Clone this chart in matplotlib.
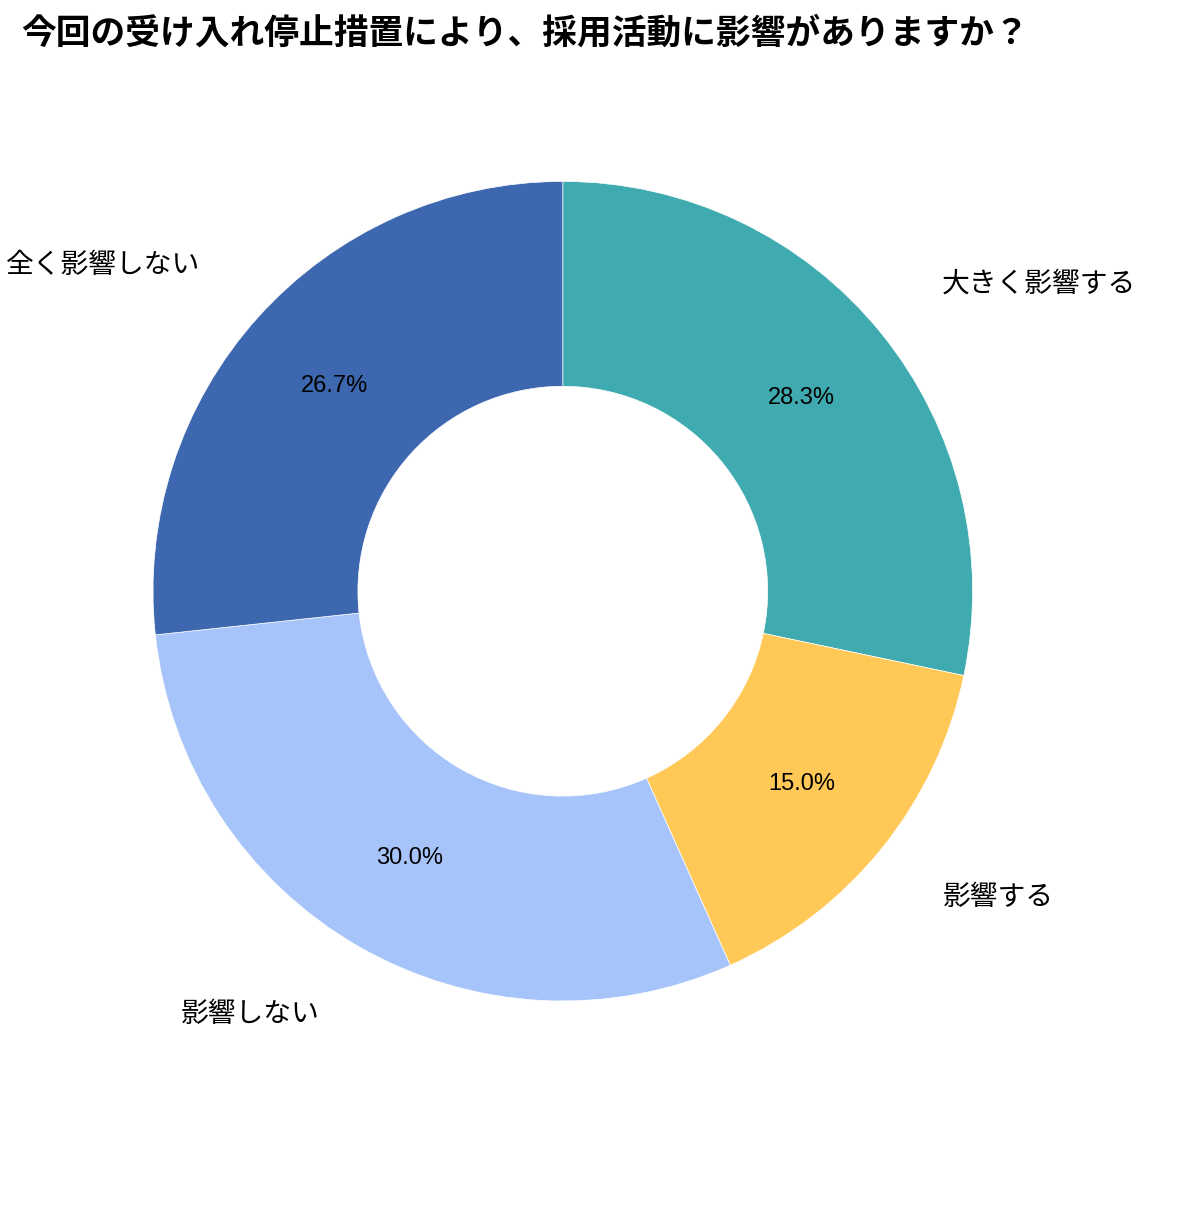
import matplotlib
matplotlib.use("Agg")
import matplotlib.pyplot as plt

plt.rcParams['font.family'] = ['Noto Sans CJK JP', 'DejaVu Sans']

labels = ['大きく影響する', '影響する', '影響しない', '全く影響しない']
values = [28.3, 15.0, 30.0, 26.7]
colors = ['#3FAAAF', '#FFC857', '#A7C4FA', '#3D68B0']

fig = plt.figure(figsize=(12, 12.24), dpi=100)
fig.text(0.018, 0.973, '今回の受け入れ停止措置により、採用活動に影響がありますか？',
         fontsize=25, fontweight='bold', va='center', ha='left')

ax = fig.add_axes([0.1275, 0.182, 0.683, 0.67])
wedges, texts, autotexts = ax.pie(
    values, labels=labels, colors=colors, startangle=90, counterclock=False,
    autopct='%1.1f%%', pctdistance=0.75, labeldistance=1.19,
    wedgeprops=dict(width=0.5, edgecolor='white', linewidth=0.5),
    textprops=dict(fontsize=20))
for t in autotexts:
    t.set_fontsize(17)
    t.set_family('Liberation Sans')
for t in texts:
    t.set_clip_on(False)
ax.set_xlim(-1, 1)
ax.set_ylim(-1, 1)
ax.set_aspect('equal')

fig.savefig('out.png', dpi=100, facecolor='white')
